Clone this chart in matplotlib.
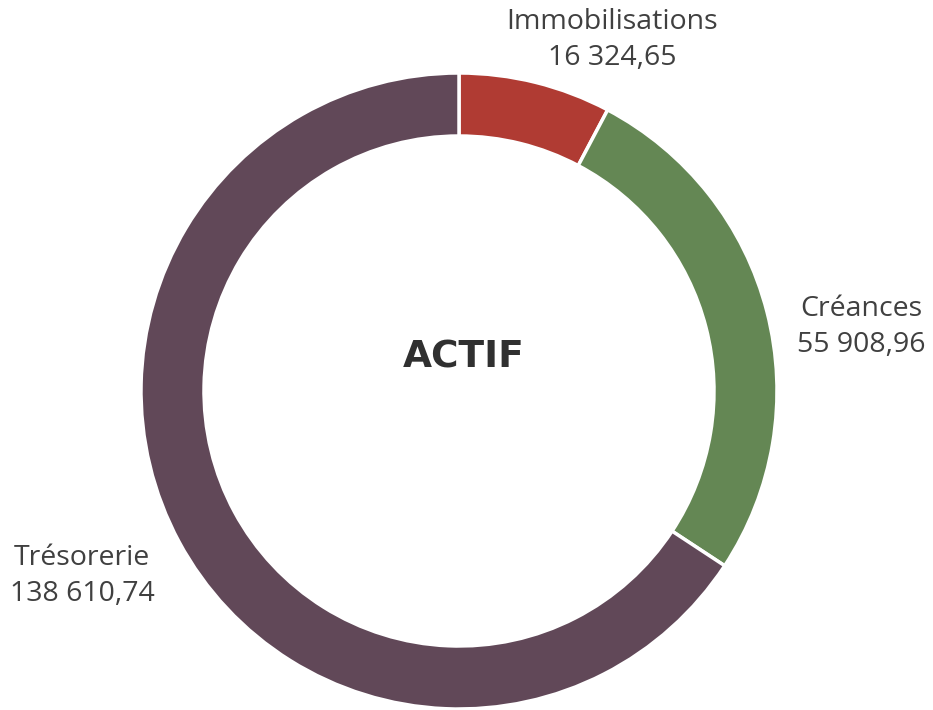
import matplotlib.pyplot as plt

labels = ["Immobilisations", "Créances", "Trésorerie"]
values = [16324.65, 55908.96, 138610.74]
value_text = ["16 324,65", "55 908,96", "138 610,74"]
colors = ["#B03B33", "#648754", "#614858"]

fig = plt.figure(figsize=(9.33, 7.10), dpi=100)
ax = fig.add_axes([0, 0, 1, 1])

ax.pie(values, colors=colors, startangle=90, counterclock=False,
       center=(459, 319), radius=318,
       wedgeprops=dict(width=63, edgecolor="white", linewidth=2.5))

# pie() resets the limits, so set them afterwards (pixel-like coords)
ax.set_xlim(0, 933)
ax.set_ylim(0, 710)
ax.set_aspect("equal")
ax.axis("off")

# labels placed outside the ring, as in the original
label_pos = [(612, 670), (861, 383), (82, 134)]
for name, txt, (x, y) in zip(labels, value_text, label_pos):
    ax.text(x, y, name + "\n" + txt, ha="center", va="center",
            fontsize=20.5, family="Open Sans", color="#404040",
            linespacing=1.42)

ax.text(464, 352, "ACTIF", ha="center", va="center", fontsize=27,
        fontweight="heavy", family="DejaVu Sans", color="#303030")

fig.savefig("out.png", dpi=100)
